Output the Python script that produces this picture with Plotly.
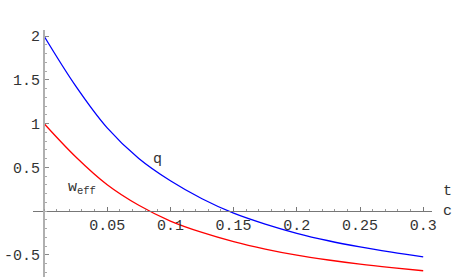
import plotly.graph_objects as go

# data
t_vals = [0.0, 0.025, 0.05, 0.075, 0.1, 0.125, 0.15, 0.175, 0.2, 0.225, 0.25, 0.275, 0.3]
q_vals = [2.0, 1.43, 0.95, 0.60, 0.345, 0.14, -0.025, -0.15, -0.255, -0.34, -0.41, -0.47, -0.525]
w_eff_vals = [1.0, 0.62, 0.30, 0.065, -0.115, -0.245, -0.35, -0.435, -0.505, -0.56, -0.607, -0.647, -0.683]

x_tick_vals = [0.05, 0.1, 0.15, 0.2, 0.25, 0.3]
x_tick_text = ["0.05", "0.1", "0.15", "0.2", "0.25", "0.3"]
y_tick_vals = [-0.5, 0.5, 1.0, 1.5, 2.0]
y_tick_text = ["-0.5", "0.5", "1", "1.5", "2"]

W, H = 469, 277
# pixel geometry
x0_px, px_per_t = 44, 1264.0
y0_px, px_per_v = 211, 87.5
xl_px, xr_px = 33, 432
yt_px, yb_px = 30, 277

def t_at(px):
    return (px - x0_px) / px_per_t

def v_at(py):
    return (y0_px - py) / px_per_v

FONT = "Liberation Mono"
TXT = "#333333"

fig = go.Figure()
fig.add_trace(go.Scatter(x=t_vals, y=q_vals, mode="lines", line=dict(color="#0000ff", width=1.3, shape="spline"),
                         showlegend=False, hoverinfo="skip"))
fig.add_trace(go.Scatter(x=t_vals, y=w_eff_vals, mode="lines", line=dict(color="#ff0000", width=1.3, shape="spline"),
                         showlegend=False, hoverinfo="skip"))

fig.update_layout(
    width=W, height=H,
    margin=dict(l=0, r=0, t=0, b=0),
    paper_bgcolor="white", plot_bgcolor="white",
    font=dict(family=FONT, size=15, color=TXT),
    xaxis=dict(
        domain=[xl_px / W, xr_px / W],
        range=[t_at(xl_px), t_at(xr_px)],
        anchor="free", position=(H - y0_px) / H,
        showgrid=False, zeroline=False,
        showline=True, linecolor="#777777", linewidth=1,
        tickmode="array", tickvals=x_tick_vals, ticktext=x_tick_text,
        ticks="inside", ticklen=4, tickcolor="#777777", tickwidth=1,
        minor=dict(tickmode="linear", tick0=0, dtick=0.01, ticks="inside", ticklen=2, tickcolor="#999999"),
        tickfont=dict(family=FONT, size=15, color=TXT),
        automargin=False, fixedrange=True,
    ),
    yaxis=dict(
        domain=[0, (H - yt_px) / H],
        range=[v_at(yb_px), v_at(yt_px)],
        anchor="free", position=x0_px / W,
        showgrid=False, zeroline=False,
        showline=True, linecolor="#b0b0b0", linewidth=2,
        tickmode="array", tickvals=y_tick_vals, ticktext=y_tick_text,
        ticks="inside", ticklen=4, tickcolor="#888888", tickwidth=1,
        minor=dict(tickmode="linear", tick0=0, dtick=0.1, ticks="inside", ticklen=2, tickcolor="#aaaaaa"),
        tickfont=dict(family=FONT, size=15, color=TXT),
        automargin=False, fixedrange=True,
    ),
    annotations=[
        dict(x=0.0898, y=0.583, xref="x", yref="y", text="q", showarrow=False,
             font=dict(family=FONT, size=15, color=TXT)),
        dict(x=0.030, y=0.263, xref="x", yref="y", text="w<sub>eff</sub>", showarrow=False,
             font=dict(family=FONT, size=15, color=TXT)),
        dict(x=454 / W, y=(H - 202) / H, xref="paper", yref="paper", text="t", showarrow=False,
             font=dict(family=FONT, size=15, color=TXT)),
        dict(x=454 / W, y=(H - 222) / H, xref="paper", yref="paper", text="c", showarrow=False,
             font=dict(family=FONT, size=15, color=TXT)),
    ],
)

fig.write_html("out.html", config={"displayModeBar": False},
               post_script="document.body.style.margin='0';")
